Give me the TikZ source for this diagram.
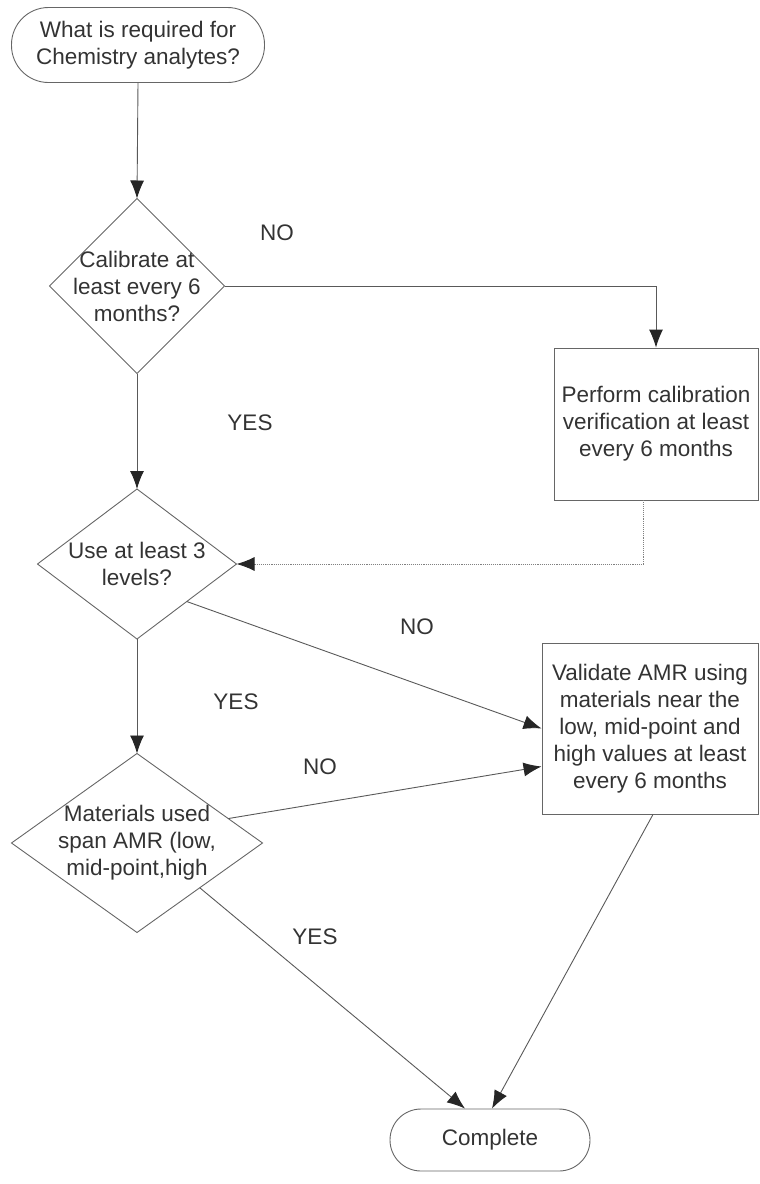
\documentclass[tikz,border=0pt]{standalone}
\usepackage{fontspec}
\setmainfont{Liberation Sans}
\usetikzlibrary{arrows.meta,shapes,positioning}

\begin{document}
\begin{tikzpicture}[x=1pt, y=-1pt, line width=0.9pt,
    every node/.style={text=black!80, font=\fontsize{22.5}{27}\selectfont},
    terminal/.style={rectangle, draw=black!60, rounded corners=37, align=center, minimum width=253, minimum height=75, inner sep=0pt},
    decision/.style={diamond, draw=black!60, inner sep=0pt, outer sep=0pt},
    qtext/.style={align=center, inner sep=0pt},
    block/.style={rectangle, draw=black!60, align=center, inner sep=0pt},
    answer/.style={inner sep=0pt},
    line/.style={draw=black!65, -{Latex[length=18pt,width=14pt,color=black!85]}},
    dotline/.style={line, densely dotted, draw=black!50}]

    \useasboundingbox (0,0) rectangle (760,1184);

    \node [terminal] (start) at (138,45) {What is required for\\Chemistry analytes?};
    \node [decision, minimum width=175, minimum height=175,
        label={[qtext]center:Calibrate at\\least every 6\\months?}] (cal) at (137,286) {};
    \node [block, minimum width=204, minimum height=152] (perf) at (656,424) {Perform calibration\\verification at least\\every 6 months};
    \node [decision, minimum width=199, minimum height=150,
        label={[qtext]center:Use at least 3\\levels?}] (lvl) at (137,564) {};
    \node [block, minimum width=216, minimum height=171] (val) at (650,728.5) {Validate AMR using\\materials near the\\low, mid-point and\\high values at least\\every 6 months};
    \node [decision, minimum width=251, minimum height=179,
        label={[qtext]center:Materials used\\span AMR (low,\\mid-point,high}] (span) at (137,843) {};
    \node [terminal, rounded corners=31, minimum width=200, minimum height=62] (done) at (490,1140) {Complete};

    \node [answer] (no1) at (277,233) {NO};
    \node [answer] (yes1) at (250,423) {YES};
    \node [answer] (no2) at (417,627) {NO};
    \node [answer] (yes2) at (236,702) {YES};
    \node [answer] (no3) at (320,767) {NO};
    \node [answer] (yes3) at (315,937) {YES};

    \path [line] (start.south) -- (cal.north);
    \path [line] (cal.east) -| (perf.north);
    \path [line] (cal.south) -- (lvl.north);
    \path [dotline] ([xshift=-13pt]perf.south) |- (lvl.east);
    \path [line] (lvl.south) -- (span.north);
    \path [line] (lvl.south east) -- (val.west);
    \path [line] (span.15) -- ([yshift=-38pt]val.west);
    \path [line] (span.south east) -- ([xshift=-25pt]done.north);
    \path [line] ([xshift=3pt]val.south) -- ([xshift=2pt]done.north);

\end{tikzpicture}
\end{document}
